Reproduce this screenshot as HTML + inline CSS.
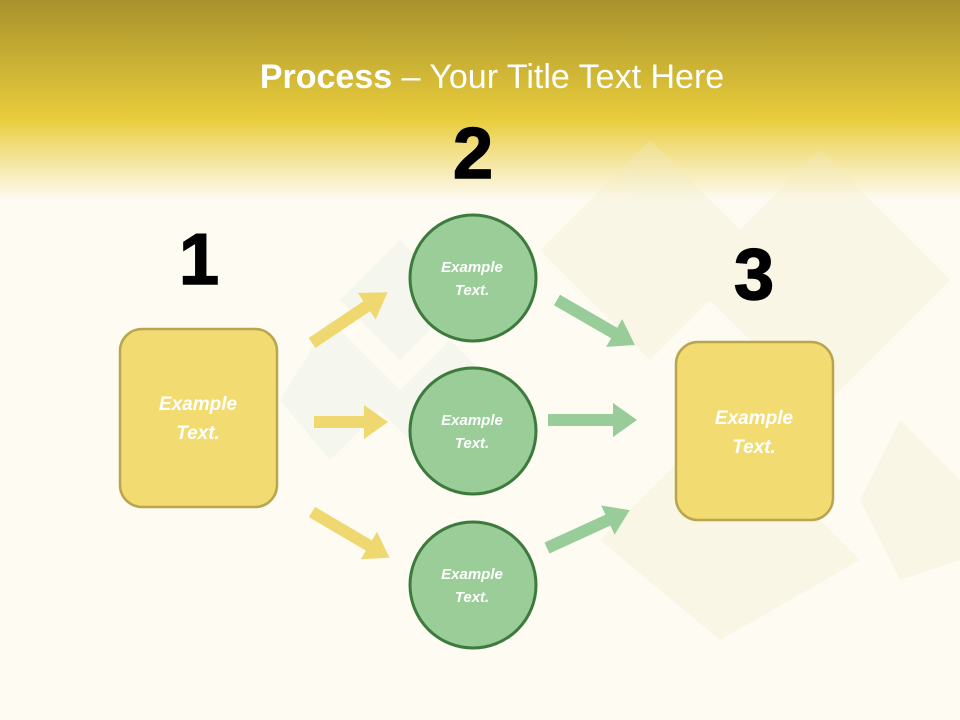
<!DOCTYPE html>
<html><head><meta charset="utf-8"><style>
html,body{margin:0;padding:0;width:960px;height:720px;overflow:hidden;background:#fdfbf2;}
svg{display:block}
text{font-family:"Liberation Sans",sans-serif}
</style></head><body>
<svg width="960" height="720" viewBox="0 0 960 720" xmlns="http://www.w3.org/2000/svg">
<defs>
<linearGradient id="hd" x1="0" y1="0" x2="0" y2="1">
<stop offset="0" stop-color="#a8922c"/>
<stop offset="0.6" stop-color="#e9cd3c"/>
<stop offset="0.72" stop-color="#f0dc78"/>
<stop offset="1" stop-color="#fdfbf2"/>
</linearGradient>
</defs>
<rect width="960" height="720" fill="#fdfbf2"/>
<rect width="960" height="200" fill="url(#hd)"/>
<g fill="#f2ecc8" opacity="0.3">
<polygon points="650,140 760,250 650,360 540,250"/>
<polygon points="820,150 950,280 820,410 690,280"/>
<polygon points="720,420 860,560 720,640 600,540"/>
<polygon points="900,420 960,480 960,560 900,580 860,500"/>
</g>
<g fill="#e8ede4" opacity="0.35">
<polygon points="400,240 460,300 400,360 340,300"/>
<polygon points="330,320 400,390 330,460 280,400"/>
<polygon points="450,340 520,410 450,480 380,410"/>
</g>
<text x="492" y="88" text-anchor="middle" fill="#fff" font-size="34"><tspan font-weight="bold">Process</tspan> – Your Title Text Here</text>
<g font-weight="bold" font-size="72" fill="#000" text-anchor="middle" stroke="#000" stroke-width="1.5">
<text x="199" y="284">1</text>
<text x="473" y="178">2</text>
<text x="754" y="299">3</text>
</g>
<g fill="#f0d870">
<g transform="translate(312,343) rotate(-33.9)"><rect x="0" y="-6" width="69" height="12"/><polygon points="66,-16 91,0 66,16"/></g>
<g transform="translate(314,422)"><rect x="0" y="-6" width="52" height="12"/><polygon points="50,-17 74,0 50,17"/></g>
<g transform="translate(312,512) rotate(30.5)"><rect x="0" y="-6" width="68" height="12"/><polygon points="66,-16 90,0 66,16"/></g>
</g>
<g fill="#98cc98">
<g transform="translate(557,300) rotate(30)"><rect x="0" y="-6" width="68" height="12"/><polygon points="66,-16 90,0 66,16"/></g>
<g transform="translate(548,420)"><rect x="0" y="-6" width="67" height="12"/><polygon points="65,-17 89,0 65,17"/></g>
<g transform="translate(547,548) rotate(-24.6)"><rect x="0" y="-6" width="69" height="12"/><polygon points="67,-16 91,0 67,16"/></g>
</g>
<rect x="120" y="329" width="157" height="178" rx="22" fill="#f2dc72" stroke="#b8a54e" stroke-width="2.5"/>
<rect x="676" y="342" width="157" height="178" rx="22" fill="#f2dc72" stroke="#b8a54e" stroke-width="2.5"/>
<g fill="#9acd98" stroke="#3d7a3d" stroke-width="3">
<circle cx="473" cy="278" r="63"/>
<circle cx="473" cy="431" r="63"/>
<circle cx="473" cy="585" r="63"/>
</g>
<g fill="#fff" font-weight="bold" font-style="italic" text-anchor="middle">
<text x="198" y="410" font-size="19">Example</text><text x="198" y="439" font-size="19">Text.</text>
<text x="754" y="424" font-size="19">Example</text><text x="754" y="453" font-size="19">Text.</text>
<text x="472" y="272" font-size="15">Example</text><text x="472" y="295" font-size="15">Text.</text>
<text x="472" y="425" font-size="15">Example</text><text x="472" y="448" font-size="15">Text.</text>
<text x="472" y="579" font-size="15">Example</text><text x="472" y="602" font-size="15">Text.</text>
</g>
</svg>
</body></html>
